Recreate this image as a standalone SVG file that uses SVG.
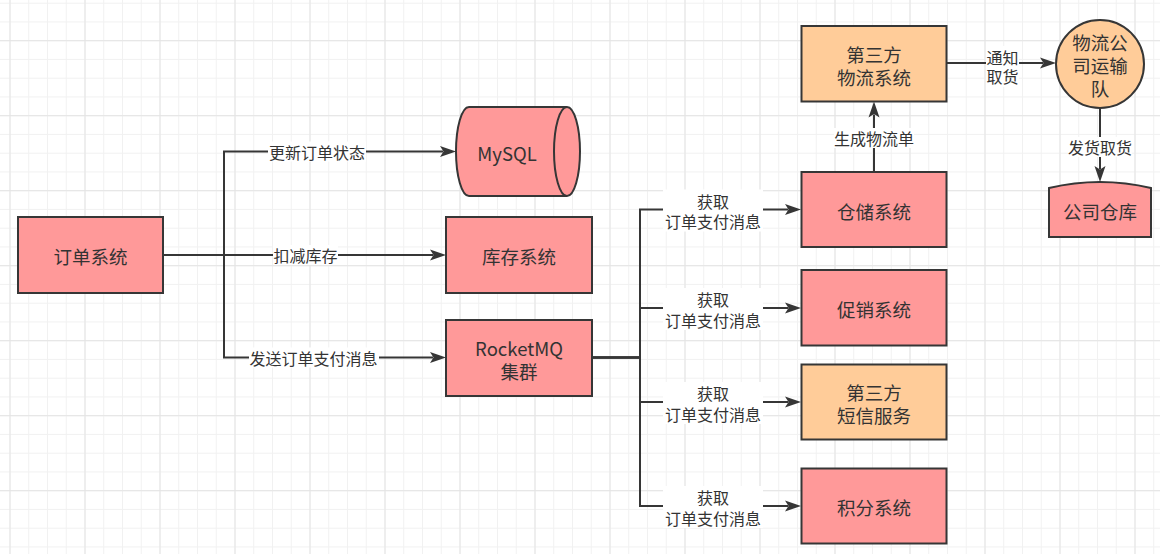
<svg xmlns="http://www.w3.org/2000/svg" width="1160" height="554" viewBox="0 0 1160 554">
<style>
.node{stroke:#363636;stroke-width:2}
.pink{fill:#FF9999}
.orange{fill:#FFCC99}
.nt{font-family:"Noto Sans CJK SC","Noto Sans",sans-serif;font-size:18.5px;fill:#333;text-anchor:middle;dominant-baseline:central}
.lt{font-family:"Noto Sans CJK SC","Noto Sans",sans-serif;font-size:16px;fill:#333;text-anchor:middle;dominant-baseline:central}
.edge{fill:none;stroke:#363636;stroke-width:2;marker-end:url(#arr)}
.lbg{fill:#fff}
</style>
<defs>
<pattern id="minor" patternUnits="userSpaceOnUse" x="9.5" y="2.7" width="18.75" height="18.75">
<path d="M0 0.5H18.75M0.5 0V18.75" fill="none" stroke="#f1f1f1" stroke-width="1"/>
</pattern>
<pattern id="major" patternUnits="userSpaceOnUse" x="9.5" y="40.2" width="75" height="75">
<path d="M0 0.5H75M0.5 0V75" fill="none" stroke="#e4e4e4" stroke-width="1"/>
</pattern>
<marker id="arr" markerUnits="userSpaceOnUse" markerWidth="16" markerHeight="12" viewBox="0 0 16 12" refX="3" refY="6" orient="auto">
<path d="M0,0.5 L16,6 L0,11.5 L3.5,6 Z" fill="#363636"/>
</marker>
</defs>
<rect width="1160" height="554" fill="#fff"/>
<rect width="1160" height="554" fill="url(#minor)"/>
<rect width="1160" height="554" fill="url(#major)"/>

<g id="connectors">
<path class="edge" d="M163,255 H224 V151.5 H443"/>
<path class="edge" d="M163,255 H433"/>
<path class="edge" d="M163,255 H224 V357.5 H433"/>
<path class="edge" d="M592,357.5 H640 V209.5 H788"/>
<path class="edge" d="M592,357.5 H640 V308 H788"/>
<path class="edge" d="M592,357.5 H640 V402 H788"/>
<path class="edge" d="M592,357.5 H640 V506 H788"/>
<path class="edge" d="M874,172 V114.5"/>
<path class="edge" d="M946.5,63 H1043"/>
<path class="edge" d="M1100,108 V169"/>

<rect class="lbg" x="268" y="141.5" width="98" height="20"/>
<text class="lt" x="317" y="151.5">更新订单状态</text>
<rect class="lbg" x="273" y="245" width="65" height="20"/>
<text class="lt" x="305.5" y="255">扣减库存</text>
<rect class="lbg" x="249" y="347.5" width="130" height="20"/>
<text class="lt" x="313.5" y="357.5">发送订单支付消息</text>

<rect class="lbg" x="663" y="189.5" width="100" height="42"/>
<text class="lt" x="713" y="200.5"><tspan x="713">获取</tspan><tspan x="713" dy="20.5">订单支付消息</tspan></text>
<rect class="lbg" x="663" y="288" width="100" height="42"/>
<text class="lt" x="713" y="299"><tspan x="713">获取</tspan><tspan x="713" dy="20.5">订单支付消息</tspan></text>
<rect class="lbg" x="663" y="382" width="100" height="42"/>
<text class="lt" x="713" y="393"><tspan x="713">获取</tspan><tspan x="713" dy="20.5">订单支付消息</tspan></text>
<rect class="lbg" x="663" y="486" width="100" height="42"/>
<text class="lt" x="713" y="497"><tspan x="713">获取</tspan><tspan x="713" dy="20.5">订单支付消息</tspan></text>

<rect class="lbg" x="834" y="128" width="80" height="20"/>
<text class="lt" x="874" y="138">生成物流单</text>
<rect class="lbg" x="986" y="46" width="33" height="41"/>
<text class="lt" x="1002.5" y="56.5"><tspan x="1002.5">通知</tspan><tspan x="1002.5" dy="19.5">取货</tspan></text>
<rect class="lbg" x="1068" y="137" width="64" height="20"/>
<text class="lt" x="1100" y="147">发货取货</text>
</g>

<g id="order">
<rect class="node pink" x="18" y="217" width="145" height="76"/>
<text class="nt" x="90.5" y="256">订单系统</text>
</g>
<g id="mysql">
<path class="node pink" d="M469,107 L567,107 A13,44.5 0 0 1 567,196 L469,196 A13,44.5 0 0 1 469,107 Z"/>
<path class="node" fill="none" d="M567,107 A13,44.5 0 0 0 567,196"/>
<text class="nt" x="507" y="153">MySQL</text>
</g>
<g id="stock">
<rect class="node pink" x="446" y="217" width="146" height="76"/>
<text class="nt" x="519" y="256">库存系统</text>
</g>
<g id="rocketmq">
<rect class="node pink" x="446" y="320" width="146" height="76"/>
<text class="nt" x="519" y="348"><tspan x="519">RocketMQ</tspan><tspan x="519" dy="23">集群</tspan></text>
</g>
<g id="logistics">
<rect class="node orange" x="801.5" y="26" width="145" height="75.5"/>
<text class="nt" x="874" y="54"><tspan x="874">第三方</tspan><tspan x="874" dy="23">物流系统</tspan></text>
</g>
<g id="warehouse">
<rect class="node pink" x="801.5" y="172" width="145" height="75"/>
<text class="nt" x="874" y="210.5">仓储系统</text>
</g>
<g id="promotion">
<rect class="node pink" x="801.5" y="270" width="145" height="75.5"/>
<text class="nt" x="874" y="309">促销系统</text>
</g>
<g id="sms">
<rect class="node orange" x="801.5" y="364.5" width="145" height="75"/>
<text class="nt" x="874" y="392"><tspan x="874">第三方</tspan><tspan x="874" dy="23">短信服务</tspan></text>
</g>
<g id="points">
<rect class="node pink" x="801.5" y="468.5" width="145" height="75"/>
<text class="nt" x="874" y="507">积分系统</text>
</g>
<g id="fleet">
<circle class="node orange" cx="1100" cy="64" r="44"/>
<text class="nt" x="1100" y="42"><tspan x="1100">物流公</tspan><tspan x="1100" dy="23">司运输</tspan><tspan x="1100" dy="23">队</tspan></text>
</g>
<g id="company-warehouse">
<path class="node pink" d="M1049,188 Q1100,176 1151,188 L1151,237 L1049,237 Z"/>
<text class="nt" x="1100" y="211">公司仓库</text>
</g>
</svg>
